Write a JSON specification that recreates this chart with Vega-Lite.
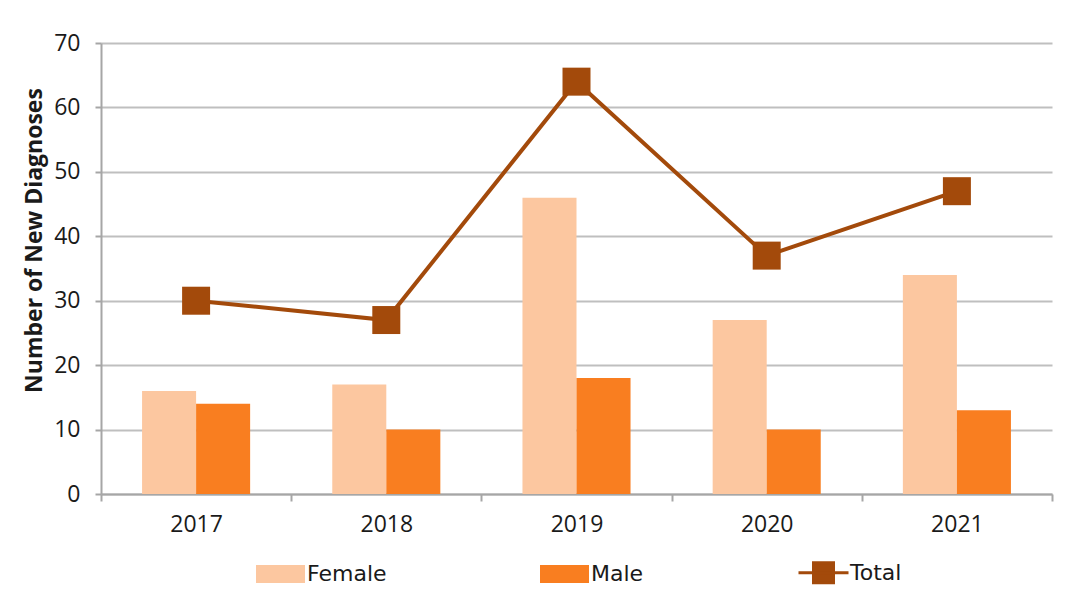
{
  "$schema": "https://vega.github.io/schema/vega-lite/v6.json",
  "width": 951,
  "height": 451,
  "autosize": {"type": "none"},
  "padding": {"left": 101, "top": 43, "right": 13, "bottom": 99},
  "background": "white",
  "config": {"view": {"stroke": null}, "font": "Open Sans"},
  "data": {
    "values": [
      {"year": "2017", "series": "Female", "value": 16},
      {"year": "2017", "series": "Male", "value": 14},
      {"year": "2017", "series": "Total", "value": 30},
      {"year": "2018", "series": "Female", "value": 17},
      {"year": "2018", "series": "Male", "value": 10},
      {"year": "2018", "series": "Total", "value": 27},
      {"year": "2019", "series": "Female", "value": 46},
      {"year": "2019", "series": "Male", "value": 18},
      {"year": "2019", "series": "Total", "value": 64},
      {"year": "2020", "series": "Female", "value": 27},
      {"year": "2020", "series": "Male", "value": 10},
      {"year": "2020", "series": "Total", "value": 37},
      {"year": "2021", "series": "Female", "value": 34},
      {"year": "2021", "series": "Male", "value": 13},
      {"year": "2021", "series": "Total", "value": 47}
    ]
  },
  "layer": [
    {
      "transform": [{"filter": "datum.series !== 'Total'"}],
      "mark": {"type": "bar"},
      "encoding": {
        "x": {
          "field": "year",
          "type": "nominal",
          "scale": {"paddingInner": 0, "paddingOuter": 0},
          "axis": {
            "title": null,
            "labelAngle": 0,
            "tickBand": "extent",
            "tickSize": 7,
            "tickColor": "#A6A6A6",
            "tickWidth": 2,
            "domainColor": "#A6A6A6",
            "domainWidth": 2,
            "labelPadding": 12,
            "labelFontSize": 23,
            "labelColor": "#1a1a1a",
            "labelFont": "Open Sans"
          }
        },
        "xOffset": {
          "field": "series",
          "type": "nominal",
          "scale": {"domain": ["Female", "Male"], "paddingOuter": 0.76, "paddingInner": 0}
        },
        "y": {
          "field": "value",
          "type": "quantitative",
          "scale": {"domain": [0, 70]},
          "axis": {
            "title": "Number of New Diagnoses",
            "values": [0, 10, 20, 30, 40, 50, 60, 70],
            "grid": true,
            "gridColor": "#BFBFBF",
            "gridWidth": 2,
            "domainColor": "#A6A6A6",
            "domainWidth": 2,
            "tickColor": "#A6A6A6",
            "tickWidth": 2,
            "tickSize": 6,
            "labelPadding": 15,
            "labelFontSize": 23,
            "labelColor": "#1a1a1a",
            "labelFont": "Open Sans",
            "titleFont": "Open Sans",
            "titleFontWeight": "bold",
            "titleFontSize": 23,
            "titleColor": "#1a1a1a",
            "titleX": -55,
            "titleY": 197,
            "titleBaseline": "bottom"
          }
        },
        "color": {
          "field": "series",
          "type": "nominal",
          "scale": {"domain": ["Female", "Male", "Total"], "range": ["#FCC7A0", "#F97E20", "#A34A0B"]},
          "legend": {
            "orient": "none",
            "legendX": 153,
            "legendY": 503,
            "direction": "horizontal",
            "title": null,
            "padding": 0,
            "labelFont": "DejaVu Sans",
            "labelFontSize": 22,
            "labelColor": "#1a1a1a",
            "labelOffset": 0,
            "columnPadding": 148,
            "symbolSize": 2500,
            "symbolStrokeWidth": 3,
            "encode": {
              "symbols": {
                "update": {
                  "shape": {"signal": "datum.value === 'Total' ? 'M-1,0H1M-0.4,-0.4H0.4V0.4H-0.4Z' : 'M-0.92,-0.3H0.92V0.3H-0.92Z'"},
                  "fill": {"scale": "color", "field": "value"},
                  "stroke": {"signal": "datum.value === 'Total' ? '#A34A0B' : 'transparent'"},
                  "opacity": {"value": 1}
                }
              }
            }
          }
        }
      }
    },
    {
      "transform": [{"filter": "datum.series === 'Total'"}],
      "mark": {"type": "line", "strokeWidth": 4},
      "encoding": {
        "x": {"field": "year", "type": "nominal"},
        "y": {"field": "value", "type": "quantitative"},
        "color": {"field": "series", "type": "nominal"}
      }
    },
    {
      "transform": [{"filter": "datum.series === 'Total'"}],
      "mark": {"type": "point", "shape": "square", "filled": true, "size": 784, "opacity": 1},
      "encoding": {
        "x": {"field": "year", "type": "nominal"},
        "y": {"field": "value", "type": "quantitative"},
        "color": {"field": "series", "type": "nominal"}
      }
    }
  ]
}
